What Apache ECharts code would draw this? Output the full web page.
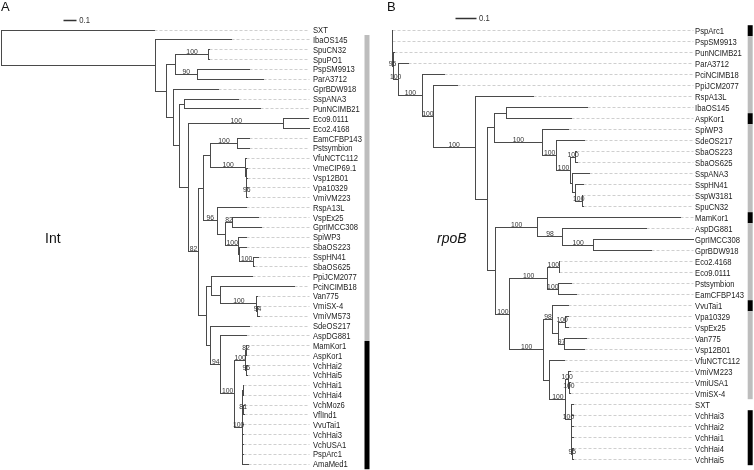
<!DOCTYPE html>
<html><head><meta charset="utf-8">
<script src="https://cdn.jsdelivr.net/npm/echarts@6/dist/echarts.min.js"></script>
<style>html,body{margin:0;padding:0;background:#fff}#c{width:754px;height:470px}</style>
</head><body><div id="c"></div>
<script>
// ===== Panel A : Int tree =====
const leavesA = ['SXT','IbaOS145','SpuCN32','SpuPO1','PspSM9913','ParA3712','GprBDW918','SspANA3','PunNCIMB21','Eco9.0111','Eco2.4168','EamCFBP143','Pstsymbion','VfuNCTC112','VmeCIP69.1','Vsp12B01','Vpa10329','VmiVM223','RspA13L','VspEx25','GprIMCC308','SpiWP3','SbaOS223','SspHN41','SbaOS625','PpiJCM2077','PciNCIMB18','Van775','VmiSX-4','VmiVM573','SdeOS217','AspDG881','MamKor1','AspKor1','VchHai2','VchHai5','VchHai1','VchHai4','VchMoz6','VflInd1','VvuTai1','VchHai3','VchUSA1','PspArc1','AmaMed1'];
const leafDepthA = [1.252,1.870,1.699,1.699,2.019,2.133,1.767,1.929,2.111,2.500,2.508,2.024,2.024,2.000,2.004,2.004,2.008,2.008,1.992,2.092,2.120,1.992,1.998,2.092,2.057,2.041,2.390,2.085,2.093,2.098,2.024,1.992,2.000,2.000,2.004,2.004,1.972,1.972,1.976,1.976,1.970,1.970,1.970,1.970,2.011];
const leafParentA = [0,1,4,4,5,5,6,8,8,10,10,14,14,15,16,17,18,18,19,21,21,22,23,24,24,26,27,28,29,29,30,31,34,34,35,35,37,37,38,38,36,36,36,36,36];
const nodeDepthA = [0,1.258,1.347,1.415,1.691,1.599,1.401,1.450,1.492,1.528,2.297,1.604,1.645,1.705,1.921,1.988,1.992,1.996,2.000,1.758,1.827,1.881,1.933,1.943,2.051,1.672,1.713,1.786,2.081,2.089,1.705,1.786,1.900,1.988,1.996,2.000,1.965,1.969,1.972];
const nodeParentA = [-1,0,1,2,3,3,2,6,7,7,9,9,11,12,13,13,15,16,17,12,19,20,20,22,23,11,25,26,27,28,25,30,31,32,33,33,32,36,36];
const supportA = [null,null,null,null,100,90,null,null,null,null,100,82,null,null,100,100,null,null,96,96,null,82,100,null,100,null,null,null,100,94,null,94,100,100,82,96,100,null,81];
const groupBarsA = [[1,31,'gray'],[32,44,'black']];

// ===== Panel B : rpoB tree =====
const leavesB = ['PspArc1','PspSM9913','PunNCIMB21','ParA3712','PciNCIMB18','PpiJCM2077','RspA13L','IbaOS145','AspKor1','SpiWP3','SdeOS217','SbaOS223','SbaOS625','SspANA3','SspHN41','SspW3181','SpuCN32','MamKor1','AspDG881','GprIMCC308','GprBDW918','Eco2.4168','Eco9.0111','Pstsymbion','EamCFBP143','VvuTai1','Vpa10329','VspEx25','Van775','Vsp12B01','VfuNCTC112','VmiVM223','VmiUSA1','VmiSX-4','SXT','VchHai3','VchHai2','VchHai1','VchHai4','VchHai5'];
const leafDepthB = [0.003,0.003,0.010,0.079,0.258,0.324,0.696,0.962,0.885,0.868,0.946,0.911,0.914,0.975,0.942,0.939,0.942,1.419,1.255,1.483,1.279,0.826,0.826,0.885,0.910,0.868,0.870,0.867,0.959,0.946,0.852,0.877,0.879,0.879,0.893,0.892,0.892,0.892,0.893,0.893];
const leafParentB = [0,0,1,2,3,4,5,8,8,9,10,12,12,13,14,15,15,17,18,19,19,22,22,23,23,25,27,27,28,28,29,31,32,32,33,34,34,34,35,35];
const nodeDepthB = [0,0.005,0.031,0.151,0.203,0.409,0.471,0.504,0.565,0.742,0.811,0.879,0.906,0.887,0.904,0.936,0.512,0.716,0.841,0.992,0.581,0.765,0.824,0.819,0.745,0.792,0.819,0.857,0.852,0.778,0.857,0.869,0.874,0.882,0.886,0.889];
const nodeParentB = [-1,0,1,2,3,4,5,6,7,7,9,10,11,11,13,14,6,16,17,18,16,20,21,21,20,24,25,26,26,24,29,30,31,30,33,34];
const supportB = [null,95,100,100,100,100,null,null,null,100,100,100,100,null,null,100,null,100,98,100,100,100,100,100,100,98,null,100,97,null,100,100,100,100,null,95];
const groupBarsB = [[0,0,'black'],[1,7,'gray'],[8,8,'black'],[9,16,'gray'],[17,17,'black'],[18,24,'gray'],[25,25,'black'],[26,33,'gray'],[35,39,'black']];

const scaleBarLength = 0.1;
const scaleBarText = '0.1';

// ===== layout / style (not data) =====
const LAY = [
  {left: 1, unit: 123, first: 30, step: 9.87, barX: 364.5, barW: 5, gap: 3.5, sbX: 0.512, sbY: -0.94},
  {left: 392, unit: 203, first: 30.7, step: 11, barX: 747.7, barW: 5, gap: 2, sbX: 0.314, sbY: -1.127}
];
const BAR_COLORS = {gray: '#bdbdbd', black: '#000'};
const LINE = '#4a4a4a';
const FONT = "'Liberation Sans',Arial,sans-serif";

const grids = [], xAxes = [], yAxes = [], series = [];
const cr = v => Math.floor(v) + 0.5;

function segSeries(gi, data, style) {
  return {type: 'custom', xAxisIndex: gi, yAxisIndex: gi, clip: false, silent: true, animation: false,
    data: data, encode: {x: [0, 2], y: [1, 3]},
    renderItem: function (params, api) {
      const p1 = api.coord([api.value(0), api.value(1)]);
      const p2 = api.coord([api.value(2), api.value(3)]);
      return {type: 'line', shape: {x1: cr(p1[0]), y1: cr(p1[1]), x2: cr(p2[0]), y2: cr(p2[1])}, style: style};
    }};
}

function buildTree(gi, leaves, leafDepth, leafParent, nodeDepth, nodeParent, support, bars) {
  const L = LAY[gi];
  const nL = leaves.length, nN = nodeDepth.length;
  const childY = nodeDepth.map(() => []);
  leaves.forEach((_, i) => childY[leafParent[i]].push(i));
  const nodeY = new Array(nN), minY = new Array(nN), maxY = new Array(nN);
  for (let j = nN - 1; j >= 0; j--) {
    minY[j] = Math.min.apply(null, childY[j]);
    maxY[j] = Math.max.apply(null, childY[j]);
    nodeY[j] = (minY[j] + maxY[j]) / 2;
    if (nodeParent[j] >= 0) childY[nodeParent[j]].push(nodeY[j]);
  }
  const dashEnd = Math.max.apply(null, leafDepth);
  grids.push({left: L.left, top: L.first - L.step / 2, width: dashEnd * L.unit, height: nL * L.step, containLabel: false});
  xAxes.push({type: 'value', gridIndex: gi, min: 0, max: dashEnd, show: false});
  yAxes.push({type: 'value', gridIndex: gi, min: -0.5, max: nL - 0.5, inverse: true, show: false});

  const solid = [], dashed = [], supp = [];
  leaves.forEach((_, i) => {
    solid.push([nodeDepth[leafParent[i]], i, leafDepth[i], i]);
    if (dashEnd - leafDepth[i] > 0.004) dashed.push([leafDepth[i], i, dashEnd, i]);
  });
  for (let j = 0; j < nN; j++) {
    solid.push([nodeDepth[j], minY[j], nodeDepth[j], maxY[j]]);
    const p = nodeParent[j];
    if (p >= 0) {
      solid.push([nodeDepth[p], nodeY[j], nodeDepth[j], nodeY[j]]);
      if (support[j] != null) supp.push([(nodeDepth[p] + nodeDepth[j]) / 2, nodeY[j], support[j]]);
    }
  }
  series.push(segSeries(gi, dashed, {stroke: '#cfcfcf', lineWidth: 1, lineDash: [3, 2]}));
  series.push(segSeries(gi, solid, {stroke: LINE, lineWidth: 1, lineCap: 'square'}));

  // bootstrap support labels
  series.push({type: 'custom', xAxisIndex: gi, yAxisIndex: gi, clip: false, silent: true, animation: false,
    data: supp, encode: {x: 0, y: 1},
    renderItem: function (params, api) {
      const p = api.coord([api.value(0), api.value(1)]);
      return {type: 'text', x: p[0], y: cr(p[1]) + 1.5,
        style: {text: String(api.value(2)), fontSize: 6.8, fontFamily: FONT, fill: '#333', align: 'center', verticalAlign: 'bottom'}};
    }});

  // leaf labels
  series.push({type: 'custom', xAxisIndex: gi, yAxisIndex: gi, clip: false, silent: true, animation: false,
    data: leaves.map((_, i) => [dashEnd, i]), encode: {x: 0, y: 1},
    renderItem: function (params, api) {
      const p = api.coord([api.value(0), api.value(1)]);
      return {type: 'text', x: p[0] + L.gap, y: p[1] + 0.5, scaleX: 0.85,
        style: {text: leaves[params.dataIndex], fontSize: 9, fontFamily: FONT, fill: '#222', align: 'left', verticalAlign: 'middle'}};
    }});

  // group bars
  series.push({type: 'custom', xAxisIndex: gi, yAxisIndex: gi, clip: false, silent: true, animation: false,
    data: bars.map(b => [0, b[0], b[1]]), encode: {x: 0, y: [1, 2]},
    renderItem: function (params, api) {
      const y1 = api.coord([0, api.value(1) - 0.5])[1];
      const y2 = api.coord([0, api.value(2) + 0.5])[1];
      return {type: 'rect', shape: {x: L.barX, y: y1, width: L.barW, height: y2 - y1},
        style: {fill: BAR_COLORS[bars[params.dataIndex][2]]}};
    }});

  // scale bar
  series.push(segSeries(gi, [[L.sbX, L.sbY, L.sbX + scaleBarLength, L.sbY]], {stroke: '#333', lineWidth: 1.5}));
  series.push({type: 'custom', xAxisIndex: gi, yAxisIndex: gi, clip: false, silent: true, animation: false,
    data: [[L.sbX + scaleBarLength, L.sbY]], encode: {x: 0, y: 1},
    renderItem: function (params, api) {
      const p = api.coord([api.value(0), api.value(1)]);
      return {type: 'text', x: p[0] + 3, y: p[1], scaleX: 0.9,
        style: {text: scaleBarText, fontSize: 8.5, fontFamily: FONT, fill: '#333', align: 'left', verticalAlign: 'middle'}};
    }});
}

buildTree(0, leavesA, leafDepthA, leafParentA, nodeDepthA, nodeParentA, supportA, groupBarsA);
buildTree(1, leavesB, leafDepthB, leafParentB, nodeDepthB, nodeParentB, supportB, groupBarsB);

const chart = echarts.init(document.getElementById('c'), null, {renderer: 'canvas'});
chart.setOption({
  animation: false,
  backgroundColor: '#fff',
  grid: grids, xAxis: xAxes, yAxis: yAxes, series: series,
  graphic: [
    {type: 'text', left: 1, top: 1, style: {text: 'A', fontSize: 13, fontFamily: FONT, fill: '#111'}},
    {type: 'text', left: 387, top: 1, style: {text: 'B', fontSize: 13, fontFamily: FONT, fill: '#111'}},
    {type: 'text', left: 45, top: 232, style: {text: 'Int', fontSize: 14, fontFamily: FONT, fill: '#111'}},
    {type: 'text', left: 437, top: 232, style: {text: 'rpoB', fontSize: 14, fontStyle: 'italic', fontFamily: FONT, fill: '#111'}}
  ]
});
</script>
</body></html>
